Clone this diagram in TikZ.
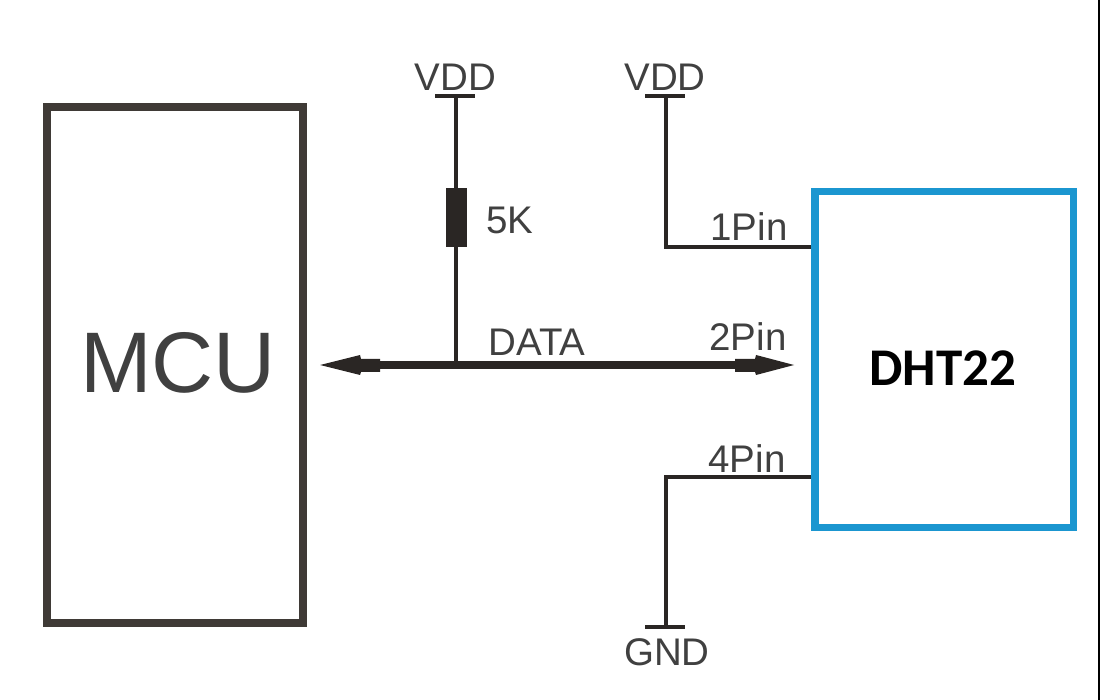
\documentclass[tikz,border=0pt]{standalone}
\usepackage{fontspec}
\setmainfont{Liberation Sans}
\newfontfamily\boldlab{Carlito}
\definecolor{ink}{HTML}{2A2624}
\definecolor{boxgray}{HTML}{3F3A36}
\definecolor{txt}{HTML}{404040}
\definecolor{dhtblue}{HTML}{1B96D0}
\tikzset{
  mcubox/.style={draw=boxgray,line width=8pt,inner sep=0pt,minimum width=256pt,minimum height=515pt,fill=white},
  dhtbox/.style={draw=dhtblue,line width=7.5pt,inner sep=0pt,minimum width=258.5pt,minimum height=335.5pt,fill=white},
  wire/.style={draw=ink,line width=3.4pt,line join=miter},
  rail/.style={draw=ink,line width=4pt},
  bus/.style={draw=ink,line width=7.5pt},
  lab/.style={text=txt,font=\fontsize{38.5}{38.5}\selectfont,inner sep=0pt},
  res/.style={fill=ink,draw=none,minimum width=21pt,minimum height=59pt,inner sep=0pt}
}
\begin{document}
\begin{tikzpicture}[x=1pt,y=-1pt]
\useasboundingbox (0,0) rectangle (1100,700);
\fill[white] (0,0) rectangle (1100,700);
\draw[black,line width=2pt] (1099,0) -- (1099,700);
% boxes
\node[mcubox] (mcu) at (174.5,365) {};
\node[text=txt,font=\fontsize{86}{86}\selectfont,inner sep=0pt] (mcutext) at (178,363) {MCU};
\node[dhtbox] (dht) at (944,359.5) {};
\node[text=black,font=\boldlab\bfseries\fontsize{53}{53}\selectfont,inner sep=0pt] (dhttext) at (943,368) {DHT22};
% rails
\coordinate (v1l) at (435,96); \coordinate (v1r) at (475,96); \coordinate (v1) at (456,96);
\coordinate (v2l) at (645,96); \coordinate (v2r) at (685,96); \coordinate (v2) at (666,96);
\coordinate (gl) at (645,627); \coordinate (gr) at (685,627); \coordinate (g) at (666,627);
\draw[rail] (v1l) -- (v1r);
\draw[rail] (v2l) -- (v2r);
\draw[rail] (gl) -- (gr);
% resistor
\node[res] (r) at (456,217.5) {};
\coordinate (jn) at (456,365);
\draw[wire] (v1) -- (r.north);
\draw[wire] (r.south) -- (jn);
% pins
\coordinate (p1) at (811,247); \coordinate (p4) at (811,477);
\draw[wire] (v2) -- (666,247) -- (p1);
\draw[wire] (g) -- (666,477) -- (p4);
% bus
\coordinate (bl) at (320,365); \coordinate (br) at (794,365);
\coordinate (bs) at (375,365); \coordinate (be) at (740,365);
\draw[bus] (bs) -- (be);
\fill[ink] (bl) -- ++(40,-10) -- ++(1,4) -- ++(19,0) -- ++(0,13) -- ++(-19,0) -- ++(-1,3) -- cycle;
\fill[ink] (br) -- ++(-38,-10) -- ++(-1,4) -- ++(-20,0) -- ++(0,13) -- ++(20,0) -- ++(1,3) -- cycle;
% labels
\node[lab] (l1) at (455.5,77) {VDD};
\node[lab] (l2) at (665,77) {VDD};
\node[lab] (l3) at (510,220) {5K};
\node[lab] (l4) at (537,342) {DATA};
\node[lab] (l5) at (748,337) {2Pin};
\node[lab] (l6) at (749,227) {1Pin};
\node[lab] (l7) at (747,459) {4Pin};
\node[lab] (l8) at (667,652) {GND};
\end{tikzpicture}
\end{document}
